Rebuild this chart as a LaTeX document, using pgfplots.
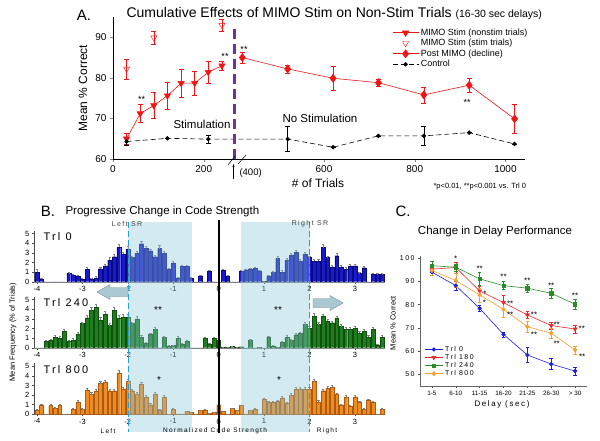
\documentclass[border=0pt]{standalone}
\usepackage{pgfplots}
\pgfplotsset{compat=1.18}
\usepackage{pgfplotstable}
\usetikzlibrary{arrows.meta}
\usepackage{fontspec}
\setmainfont{Liberation Sans}
\newfontfamily\spc[LetterSpace=20]{Liberation Sans}
\newcommand{\fs}[1]{\fontsize{#1}{#1}\selectfont}
\definecolor{mred}{RGB}{240,20,20}
\definecolor{bblue}{RGB}{25,25,205}
\definecolor{bblueE}{RGB}{10,10,120}
\definecolor{bgreen}{RGB}{30,125,30}
\definecolor{bgreenE}{RGB}{15,80,15}
\definecolor{borange}{RGB}{240,140,30}
\definecolor{borangeE}{RGB}{170,90,20}
\definecolor{srcol}{RGB}{140,200,215}
\definecolor{cline}{RGB}{40,160,210}
\definecolor{purp}{RGB}{112,48,160}
\definecolor{arrowc}{RGB}{170,200,210}
\definecolor{cblue}{RGB}{30,30,220}
\definecolor{cred}{RGB}{230,40,40}
\definecolor{cgreen}{RGB}{40,140,40}
\definecolor{corange}{RGB}{245,160,50}

% Panel B histograms: x = normalized code strength, h = mean frequency, e = error
\pgfplotstableread{
x h e
-4.0 1.0 0.3
-3.9 0.25 0.1
-3.8 0 0
-3.7 0 0
-3.6 0 0
-3.5 0 0
-3.4 0 0
-3.3 0.85 0.1
-3.2 0.65 0.1
-3.1 0.6 0.1
-3.0 0.3 0.1
-2.9 1.3 0.25
-2.8 0.25 0.1
-2.7 0.4 0.15
-2.6 1.35 0.2
-2.5 1.65 0.2
-2.4 2.25 0.25
-2.3 2.6 0.3
-2.2 3.6 0.3
-2.1 2.85 0.2
-2.0 3.4 0.25
-1.9 2.5 0.2
-1.8 2.95 0.25
-1.7 3.95 0.25
-1.6 3.5 0.2
-1.5 3.2 0.2
-1.4 2.6 0.2
-1.3 3.45 0.3
-1.2 2.95 0.2
-1.1 1.3 0.15
-1.0 1.95 0.2
-0.9 0.4 0.1
-0.8 1.6 0.15
-0.7 1.6 0.15
-0.6 0.35 0.1
-0.5 0 0
-0.4 0.6 0.1
-0.3 0 0
-0.2 1.1 0.1
-0.1 0 0
0.0 0 0
0.1 1.2 0.1
0.2 0.6 0.1
0.3 0 0
0.4 0 0
0.5 1.1 0.1
0.6 1.25 0.1
0.7 1.35 0.1
0.8 1.4 0.1
0.9 1.1 0.1
1.0 0.05 0
1.1 0.55 0.1
1.2 0.95 0.15
1.3 2.4 0.3
1.4 1.0 0.2
1.5 2.25 0.2
1.6 2.75 0.25
1.7 3.05 0.25
1.8 2.15 0.2
1.9 2.85 0.25
2.0 2.5 0.2
2.1 2.15 0.15
2.2 2.15 0.2
2.3 3.55 0.35
2.4 2.5 0.2
2.5 1.55 0.2
2.6 2.7 0.3
2.7 1.55 0.15
2.8 1.3 0.2
2.9 1.65 0.2
3.0 1.65 0.2
3.1 0.85 0.15
3.2 1.45 0.2
3.3 0 0
3.4 0.75 0.15
3.5 0.75 0.1
3.6 0.75 0.1
}\trlzero

\pgfplotstableread{
x h e
-4.0 0 0
-3.9 0 0
-3.8 0.65 0.1
-3.7 0.8 0.1
-3.6 1.1 0.15
-3.5 1.0 0.15
-3.4 1.7 0.2
-3.3 0.7 0.1
-3.2 0.8 0.15
-3.1 1.4 0.2
-3.0 2.5 0.2
-2.9 3.1 0.25
-2.8 3.9 0.3
-2.7 4.2 0.35
-2.6 2.9 0.25
-2.5 3.5 0.3
-2.4 2.3 0.2
-2.3 3.9 0.3
-2.2 3.1 0.25
-2.1 3.2 0.25
-2.0 3.2 0.25
-1.9 2.5 0.2
-1.8 3.0 0.25
-1.7 1.1 0.2
-1.6 0.45 0.1
-1.5 1.4 0.15
-1.4 1.9 0.2
-1.3 0 0
-1.2 1.05 0.15
-1.1 0.2 0.05
-1.0 0.25 0.05
-0.9 1.0 0.15
-0.8 0.4 0.1
-0.7 0.65 0.1
-0.6 0 0
-0.5 0 0
-0.4 0 0
-0.3 1.0 0.1
-0.2 0.4 0.05
-0.1 1.0 0.1
0.0 0.8 0.1
0.1 0.05 0
0.2 0.05 0
0.3 0.15 0
0.4 0.05 0
0.5 0.1 0
0.6 0 0
0.7 0.75 0.1
0.8 0 0
0.9 0.05 0
1.0 0 0
1.1 1.1 0.1
1.2 0.2 0.05
1.3 0.05 0
1.4 0.55 0.1
1.5 1.1 0.15
1.6 0.75 0.1
1.7 1.35 0.15
1.8 1.5 0.15
1.9 2.4 0.2
2.0 2.0 0.2
2.1 3.25 0.3
2.2 2.4 0.2
2.3 3.3 0.2
2.4 2.75 0.2
2.5 2.6 0.2
2.6 3.05 0.2
2.7 2.2 0.2
2.8 1.9 0.2
2.9 1.9 0.2
3.0 2.0 0.2
3.1 1.5 0.2
3.2 1.7 0.2
3.3 1.1 0.2
3.4 1.9 0.2
3.5 0.3 0.05
3.6 1.1 0.2
}\trltwoforty

\pgfplotstableread{
x h e
-4.0 0.45 0.1
-3.9 1.0 0.1
-3.8 0 0
-3.7 0.9 0.1
-3.6 0.6 0.1
-3.5 0.9 0.1
-3.4 0 0
-3.3 0.05 0
-3.2 0.55 0.1
-3.1 1.25 0.2
-3.0 0.5 0.1
-2.9 2.5 0.2
-2.8 2.05 0.2
-2.7 2.4 0.2
-2.6 3.2 0.25
-2.5 3.35 0.2
-2.4 2.45 0.2
-2.3 2.45 0.2
-2.2 4.3 0.25
-2.1 2.65 0.2
-2.0 3.4 0.25
-1.9 2.45 0.2
-1.8 2.05 0.2
-1.7 3.1 0.25
-1.6 1.75 0.2
-1.5 1.0 0.15
-1.4 2.1 0.2
-1.3 0.45 0.1
-1.2 1.75 0.2
-1.1 0 0
-1.0 0.5 0.1
-0.9 0.05 0
-0.8 0.05 0
-0.7 0.3 0.05
-0.6 0.2 0.05
-0.5 0.05 0
-0.4 0.4 0.05
-0.3 0.45 0.05
-0.2 0.1 0
-0.1 0.2 0
0.0 1.0 0.1
0.1 0.3 0.05
0.2 0 0
0.3 0.6 0.05
0.4 0.4 0.05
0.5 0.9 0.05
0.6 0.05 0
0.7 0.4 0.05
0.8 0.55 0.05
0.9 0.05 0
1.0 1.55 0.1
1.1 1.25 0.1
1.2 1.25 0.1
1.3 1.4 0.1
1.4 1.7 0.15
1.5 1.2 0.1
1.6 2.0 0.15
1.7 2.6 0.2
1.8 2.6 0.2
1.9 2.6 0.2
2.0 2.6 0.2
2.1 3.4 0.2
2.2 1.3 0.15
2.3 2.45 0.15
2.4 2.7 0.2
2.5 2.85 0.2
2.6 2.05 0.15
2.7 1.0 0.1
2.8 1.8 0.15
2.9 0.85 0.1
3.0 1.8 0.15
3.1 1.25 0.15
3.2 0.5 0.1
3.3 1.45 0.15
3.4 1.3 0.1
3.5 0.05 0
3.6 0.5 0.1
}\trleighthundred

% Panel C: delay bins 0..6
\pgfplotstableread{
x t0 e0 t180 e180 t240 e240 t800 e800
0 94.0 1.5 95.3 1.5 96.8 1.8 94.7 2.0
1 88.2 2.0 96.0 2.3 96.1 1.5 90.4 3.0
2 78.4 1.4 85.9 2.0 91.1 2.7 84.2 3.0
3 67.2 1.1 80.9 3.0 88.2 1.7 78.0 3.5
4 58.3 3.2 75.6 1.5 87.1 1.7 70.5 2.5
5 54.4 2.4 71.0 1.5 84.9 2.2 67.7 2.0
6 51.4 1.6 69.5 1.7 80.2 2.0 60.5 1.8
}\delaydata

\pgfplotsset{
  histo/.style={scale only axis, width=351.5pt, height=51pt,
    xmin=-4.07, xmax=3.67, ymin=0, ymax=5.3,
    axis x line*=bottom, axis y line*=left,
    xtick={-4,-3,-2,-1,0,1,2,3}, xticklabels={-4,-3,-2,-1,0,1,2,3},
    ytick={0,1,2,3,4,5}, yticklabels={0,1,2,3,4,5},
    tick align=outside, major tick length=2pt,
    ticklabel style={font=\fs{7.5}},
    x axis line style={gray}, y axis line style={black!70},
    every tick/.style={black!70},
    xticklabel style={yshift=1pt}, yticklabel style={xshift=1pt}},
  hbar/.style n args={2}{ybar, bar width=0.085, fill=#1, draw=#2, line width=0.3pt,
    error bars/.cd, y dir=plus, y explicit,
    error bar style={gray, line width=0.4pt},
    error mark options={rotate=90, mark size=1.1pt, gray}}
}
\tikzset{ast/.style={font=\fs{9}, yshift=-2pt}}

\begin{document}
\begin{tikzpicture}
\useasboundingbox (0,0) rectangle (600pt,440pt);

% ---------------- Panel A ----------------
\begin{axis}[at={(113pt,281pt)}, anchor=south west, scale only axis,
  width=412pt, height=142pt, xmin=0, xmax=908, ymin=60, ymax=95,
  axis x line*=bottom, axis y line*=left, tick align=outside, major tick length=3pt,
  xtick={0,200,465,665,865}, xticklabels={0,200,600,800,1000},
  ytick={60,70,80,90},
  ticklabel style={font=\fs{10}}, /pgf/number format/assume math mode=true,
  clip=false,
  legend style={at={(0.675,0.94)}, anchor=north west, draw=none, fill=none,
    font=\fs{9}, row sep=-1.5pt, inner sep=1pt},
  legend cell align=left,
  legend image code/.code={\draw[mark repeat=2,mark phase=2] plot coordinates {(0pt,0pt)(13pt,0pt)(26pt,0pt)};}]
\addplot[mred, line width=0.6pt, mark=triangle*, mark size=3.6pt, mark options={rotate=180, fill=mred},
  error bars/.cd, y dir=both, y explicit, error bar style={mred, line width=0.5pt},
  error mark options={rotate=90, mark size=2.5pt, mred}]
  table[x=u, y=v, y error=e] {
u v e
30 65.0 1.4
60 71.2 2.2
90 73.2 3.2
120 75.6 3.4
150 78.7 3.4
180 78.7 3.0
210 81.4 2.8
240 83.0 1.2
};
\addlegendentry{MIMO Stim (nonstim trials)}
\addplot[mred, only marks, mark=triangle, mark size=3.6pt, mark options={rotate=180, fill=white},
  error bars/.cd, y dir=both, y explicit, error bar style={mred, line width=0.5pt},
  error mark options={rotate=90, mark size=2.5pt, mred}]
  table[x=u, y=v, y error=e] {
u v e
30 82.2 2.5
90 89.9 1.7
240 93.0 1.5
};
\addlegendentry{MIMO Stim (stim trials)}
\addplot[mred, line width=0.6pt, mark=diamond*, mark size=4pt, mark options={fill=mred},
  error bars/.cd, y dir=both, y explicit, error bar style={mred, line width=0.5pt},
  error mark options={rotate=90, mark size=2.5pt, mred}]
  table[x=u, y=v, y error=e] {
u v e
285 85.0 1.4
385 82.2 1.0
485 79.9 3.0
585 78.8 0.8
685 75.8 2.0
785 78.2 1.7
885 69.9 3.5
};
\addlegendentry{Post MIMO (decline)}
\addplot[black, line width=0.6pt, dash pattern=on 5pt off 3pt, mark=*, mark size=1.9pt, mark options={solid},
  error bars/.cd, y dir=both, y explicit, error bar style={black, line width=0.5pt, solid},
  error mark options={rotate=90, mark size=2.5pt, black, solid}]
  table[x=u, y=v, y error=e] {
u v e
30 64.3 0.8
120 65.1 0
210 64.9 1.0
385 64.9 3.1
485 62.9 0
585 65.7 0
685 65.7 2.3
785 66.5 0
885 63.7 0
};
\addlegendentry{Control}
\draw[purp, line width=2.6pt, dash pattern=on 10pt off 5pt] (axis cs:268,60) -- (axis cs:268,92.8);
\end{axis}

% ---------------- Panel B ----------------
\begin{axis}[histo, at={(33.8pt,158.3pt)}, anchor=south west]
\addplot[hbar={bblue}{bblueE}] table[x=x, y=h, y error=e] {\trlzero};
\end{axis}
\begin{axis}[histo, at={(33.8pt,92.3pt)}, anchor=south west]
\addplot[hbar={bgreen}{bgreenE}] table[x=x, y=h, y error=e] {\trltwoforty};
\end{axis}
\begin{axis}[histo, at={(33.8pt,25.7pt)}, anchor=south west]
\addplot[hbar={borange}{borangeE}] table[x=x, y=h, y error=e] {\trleighthundred};
\end{axis}

% ---------------- Panel C ----------------
\begin{axis}[at={(420pt,54.1pt)}, anchor=south west, scale only axis,
  width=167pt, height=130pt, xmin=-0.5, xmax=6.5, ymin=45, ymax=101,
  axis x line*=bottom, axis y line*=left, tick align=outside, major tick length=2pt,
  xtick={0,1,2,3,4,5,6}, xticklabels={1-5,6-10,11-15,16-20,21-25,26-30,> 30},
  ytick={50,60,70,80,90,100},
  yticklabel style={font=\spc\fs{7}}, xticklabel style={font=\fs{6.3}},
  /pgf/number format/assume math mode=true,
  every tick/.style={black!70}, axis line style={black!60},
  clip=false,
  legend style={at={(0.02,0.33)}, anchor=north west, draw=none, fill=none,
    font=\spc\fs{7}, row sep=-2.5pt, inner sep=1pt},
  legend cell align=left,
  legend image code/.code={\draw[mark repeat=2,mark phase=2] plot coordinates {(0pt,0pt)(9pt,0pt)(18pt,0pt)};}]
\addplot[cblue, line width=0.6pt, mark=*, mark size=1.8pt,
  error bars/.cd, y dir=both, y explicit, error bar style={cblue, line width=0.4pt},
  error mark options={rotate=90, mark size=1.8pt, cblue}]
  table[x=x, y=t0, y error=e0] {\delaydata};
\addlegendentry{Trl 0}
\addplot[cred, line width=0.6pt, mark=triangle*, mark size=2.2pt, mark options={rotate=180},
  error bars/.cd, y dir=both, y explicit, error bar style={cred, line width=0.4pt},
  error mark options={rotate=90, mark size=1.8pt, cred}]
  table[x=x, y=t180, y error=e180] {\delaydata};
\addlegendentry{Trl 180}
\addplot[cgreen, line width=0.6pt, mark=square*, mark size=1.7pt,
  error bars/.cd, y dir=both, y explicit, error bar style={cgreen, line width=0.4pt},
  error mark options={rotate=90, mark size=1.8pt, cgreen}]
  table[x=x, y=t240, y error=e240] {\delaydata};
\addlegendentry{Trl 240}
\addplot[corange, line width=0.6pt, mark=diamond*, mark size=2.2pt,
  error bars/.cd, y dir=both, y explicit, error bar style={corange, line width=0.4pt},
  error mark options={rotate=90, mark size=1.8pt, corange}]
  table[x=x, y=t800, y error=e800] {\delaydata};
\addlegendentry{Trl 800}
\node[font=\fs{8}, yshift=-2pt] at (axis cs:1,100.7) {*};
\node[font=\fs{8}, yshift=-2pt] at (axis cs:2,96.4) {**};
\node[font=\fs{8}, yshift=-2pt] at (axis cs:3,92.8) {**};
\node[font=\fs{8}, yshift=-2pt] at (axis cs:4,91.1) {**};
\node[font=\fs{8}, yshift=-2pt] at (axis cs:5,89.2) {**};
\node[font=\fs{8}, yshift=-2pt] at (axis cs:6,84.6) {**};
\node[font=\fs{8}, yshift=-2pt] at (axis cs:2.22,85.6) {*};
\node[font=\fs{8}, yshift=-2pt] at (axis cs:3.28,81.3) {**};
\node[font=\fs{8}, yshift=-2pt] at (axis cs:4.28,76.3) {**};
\node[font=\fs{8}, yshift=-2pt] at (axis cs:5.23,72.2) {**};
\node[font=\fs{8}, yshift=-2pt] at (axis cs:6.28,70.5) {**};
\node[font=\fs{8}, yshift=-2pt] at (axis cs:2.2,81.7) {*};
\node[font=\fs{8}, yshift=-2pt] at (axis cs:3.28,76.3) {**};
\node[font=\fs{8}, yshift=-2pt] at (axis cs:4.28,67.9) {**};
\node[font=\fs{8}, yshift=-2pt] at (axis cs:5.23,64.1) {**};
\node[font=\fs{8}, yshift=-2pt] at (axis cs:6.3,58.3) {**};
\end{axis}

% ---------------- Overlays and text (pixel coordinates, y downward) ----------------
\begin{scope}[shift={(0pt,440pt)}, x=1pt, y=-1pt]
% Panel A text
\node[font=\fs{15}] at (84,15) {A.};
\node[anchor=base west] at (123,18) {\fs{14}Cumulative Effects of MIMO Stim on Non-Stim Trials \fs{10.5}(16-30 sec delays)};
\node[rotate=90, font=\fs{12}] at (83,88) {Mean \% Correct};
\node[font=\fs{12}] at (318,183) {\# of Trials};
\node[anchor=west, font=\fs{7.5}] at (430,187) {*p<0.01, **p<0.001 vs. Trl 0};
\node[ast] at (141.7,97) {**};
\node[ast] at (225,54) {**};
\node[ast] at (244,47) {**};
\node[ast] at (467,100) {**};
\node[font=\fs{11.5}] at (202,124) {Stimulation};
\node[font=\fs{11.5}] at (320,118) {No Stimulation};
\draw[line width=0.5pt] (228,165) -- (235,156);
\draw[line width=0.5pt] (238,164) -- (246,155);
\draw[-{Stealth[length=3pt]}, line width=0.5pt] (233.5,179) -- (233.5,164);
\node[anchor=west, font=\fs{9.5}] at (236,173) {(400)};

% Panel B overlays
\fill[srcol, opacity=0.38] (128.4,222) rectangle (191.8,432);
\fill[srcol, opacity=0.38] (240.7,222) rectangle (309.6,432);
\draw[cline, line width=1pt, dash pattern=on 6pt off 3pt] (128.4,222) -- (128.4,432);
\draw[cline, line width=1pt, dash pattern=on 6pt off 3pt] (309.6,222) -- (309.6,432);
\draw[black, line width=1.2pt] (219,220) -- (219,433);
\filldraw[fill=arrowc, draw=arrowc!70!black, line width=0.4pt]
  (97,292) -- (110,284.5) -- (110,287.5) -- (128,287.5) -- (128,296.5) -- (110,296.5) -- (110,299.5) -- cycle;
\filldraw[fill=arrowc, draw=arrowc!70!black, line width=0.4pt]
  (343,303) -- (330,295.5) -- (330,298.5) -- (313,298.5) -- (313,307.5) -- (330,307.5) -- (330,310.5) -- cycle;
\node[font=\fs{15}] at (48,211) {B.};
\node[anchor=west, font=\fs{11.5}] at (62,212) {Progressive Change in Code Strength};
\node[font=\spc\fs{7}, text=black!75] at (127,224) {Left SR};
\node[font=\spc\fs{7}, text=black!75] at (310,224) {Right SR};
\node[anchor=west, font=\spc\fs{11}] at (40,237) {Trl 0};
\node[anchor=west, font=\spc\fs{11}] at (40,303) {Trl 240};
\node[anchor=west, font=\spc\fs{11}] at (40,370) {Trl 800};
\node[ast, font=\fs{10}] at (158,308) {**};
\node[ast, font=\fs{10}] at (278,308) {**};
\node[ast, font=\fs{10}] at (159,378) {*};
\node[ast, font=\fs{10}] at (279,378) {*};
\node[rotate=90, font=\fs{7.5}] at (13,332) {Mean Frequency (\% of Trials)};
\node[font=\spc\fs{6.5}] at (108,431) {Left};
\node[font=\spc\fs{6.5}] at (215,431) {Normalized Code Strength};
\node[font=\spc\fs{6.5}] at (327,431) {Right};

% Panel C text
\node[font=\fs{15}] at (403,211) {C.};
\node[font=\fs{11.5}] at (495,232) {Change in Delay Performance};
\node[font=\spc\fs{8}] at (502,404) {Delay (sec)};
\node[rotate=90, font=\fs{7.5}] at (393,323) {Mean \% Correct};
\end{scope}
\end{tikzpicture}
\end{document}
